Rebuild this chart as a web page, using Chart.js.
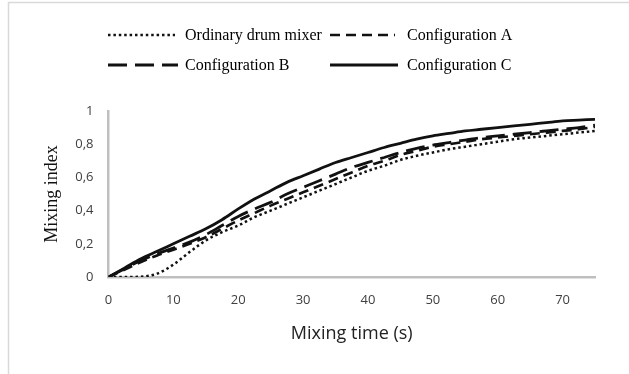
<!DOCTYPE html>
<html>
<head>
<meta charset="utf-8">
<script src="https://cdn.jsdelivr.net/npm/chart.js@4.4.1/dist/chart.umd.min.js"></script>
<style>
  html, body { margin: 0; padding: 0; background: #fff; }
  #wrap { position: relative; width: 629px; height: 374px; }
</style>
</head>
<body>
<div id="wrap"><canvas id="grafico"></canvas></div>
<script>
// tempo de mistura (s)
const tempos = [0, 2.5, 5, 7.5, 10, 12.5, 15, 17.5, 20, 22.5, 25, 27.5, 30, 32.5, 35, 37.5, 40,
    42.5, 45, 47.5, 50, 52.5, 55, 57.5, 60, 62.5, 65, 67.5, 70, 72.5, 75];

// indice de mistura de cada configuração
const ordinario = [0, 0, 0.002, 0.02, 0.075, 0.15, 0.22, 0.27, 0.31, 0.36, 0.40, 0.44, 0.48, 0.52, 0.56, 0.60, 0.64,
    0.67, 0.705, 0.73, 0.75, 0.77, 0.785, 0.80, 0.815, 0.83, 0.84, 0.85, 0.86, 0.87, 0.88];
const configA = [0, 0.045, 0.09, 0.13, 0.165, 0.20, 0.24, 0.29, 0.34, 0.385, 0.43, 0.47, 0.51, 0.55, 0.59, 0.63, 0.67,
    0.70, 0.735, 0.76, 0.785, 0.80, 0.815, 0.83, 0.84, 0.85, 0.86, 0.87, 0.88, 0.89, 0.905];
const configB = [0, 0.05, 0.10, 0.14, 0.175, 0.21, 0.255, 0.31, 0.365, 0.41, 0.45, 0.50, 0.54, 0.58, 0.62, 0.66, 0.69,
    0.72, 0.75, 0.775, 0.795, 0.81, 0.825, 0.84, 0.85, 0.86, 0.87, 0.88, 0.89, 0.90, 0.915];
const configC = [0, 0.055, 0.11, 0.155, 0.20, 0.245, 0.29, 0.345, 0.41, 0.47, 0.52, 0.57, 0.61, 0.65, 0.69, 0.72, 0.75,
    0.78, 0.805, 0.83, 0.85, 0.865, 0.88, 0.89, 0.90, 0.91, 0.92, 0.93, 0.94, 0.945, 0.95];

const nomes = ['Ordinary drum mixer', 'Configuration A', 'Configuration B', 'Configuration C'];
const ticksY = [0, 0.2, 0.4, 0.6, 0.8, 1];
const ticksX = [0, 10, 20, 30, 40, 50, 60, 70];

function pontos(valores) {
    return tempos.map((t, i) => ({x: t, y: valores[i]}));
}

// legenda em duas colunas, desenhada no canvas
const legenda = {
    id: 'legenda',
    beforeDraw(chart) {
        const ctx = chart.ctx;
        ctx.save();
        ctx.strokeStyle = '#d9d9d9';
        ctx.lineWidth = 1.5;
        ctx.strokeRect(8.5, 2.5, 700, 500);
        ctx.restore();
    },
    afterDraw(chart) {
        const ctx = chart.ctx;
        const pos = [[108, 35], [330, 35], [108, 65], [330, 65]];
        const largura = [67, 65, 70, 68];
        ctx.save();
        chart.data.datasets.forEach((ds, i) => {
            const [x, y] = pos[i];
            ctx.beginPath();
            ctx.strokeStyle = ds.borderColor;
            ctx.lineWidth = ds.borderWidth;
            ctx.lineCap = 'butt';
            ctx.setLineDash(ds.borderDash || []);
            ctx.moveTo(x, y);
            ctx.lineTo(x + largura[i], y);
            ctx.stroke();
            ctx.setLineDash([]);
            ctx.fillStyle = '#000';
            ctx.font = '16px "Liberation Serif"';
            ctx.textBaseline = 'middle';
            ctx.fillText(ds.label, x + 77, y + 1);
        });
        ctx.restore();
    }
};

const graf = document.getElementById('grafico').getContext('2d');

const meuGrafico = new Chart(graf, {
    type: 'line',
    data: {
        datasets: [
            {
                label: nomes[0],
                data: pontos(ordinario),
                borderColor: '#111',
                borderWidth: 2.5,
                borderDash: [2.5, 2.9]
            },
            {
                label: nomes[1],
                data: pontos(configA),
                borderColor: '#111',
                borderWidth: 2.7,
                borderDash: [10, 6]
            },
            {
                label: nomes[2],
                data: pontos(configB),
                borderColor: '#111',
                borderWidth: 2.8,
                borderDash: [19, 8]
            },
            {
                label: nomes[3],
                data: pontos(configC),
                borderColor: '#111',
                borderWidth: 2.8
            }
        ]
    },
    options: {
        responsive: true,
        maintainAspectRatio: false,
        animation: false,
        elements: {
            point: {radius: 0},
            line: {cubicInterpolationMode: 'monotone'}
        },
        layout: {
            padding: {left: 37, right: 34, top: 111, bottom: 25}
        },
        plugins: {
            legend: {display: false},
            tooltip: {enabled: false}
        },
        scales: {
            x: {
                type: 'linear',
                min: 0,
                max: 75,
                afterBuildTicks: (s) => { s.ticks = ticksX.map(v => ({value: v})); },
                afterFit: (s) => { s.height = 72; },
                grid: {display: false, drawTicks: false},
                border: {display: true, color: '#bfbfbf', width: 2.5},
                ticks: {
                    color: '#404040',
                    padding: 15,
                    maxRotation: 0,
                    font: {family: '"Open Sans"', size: 13}
                },
                title: {
                    display: true,
                    text: 'Mixing time (s)',
                    color: '#222',
                    font: {family: '"Open Sans"', size: 18}
                }
            },
            y: {
                min: 0,
                max: 1,
                afterBuildTicks: (s) => { s.ticks = ticksY.map(v => ({value: v})); },
                afterFit: (s) => { s.width = 71.5; },
                grid: {display: false, drawTicks: false},
                border: {display: true, color: '#bfbfbf', width: 2.5},
                ticks: {
                    color: '#404040',
                    padding: 15,
                    font: {family: '"Open Sans"', size: 13},
                    callback: (v) => String(v).replace('.', ',')
                },
                title: {
                    display: true,
                    text: 'Mixing index',
                    color: '#111',
                    font: {family: '"Liberation Serif"', size: 18}
                }
            }
        }
    },
    plugins: [legenda]
});
</script>
</body>
</html>
